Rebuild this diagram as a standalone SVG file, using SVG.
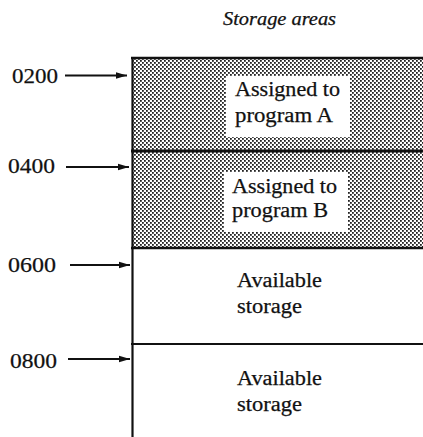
<svg xmlns="http://www.w3.org/2000/svg" width="423" height="437" viewBox="0 0 423 437">
<defs>
<pattern id="dots" width="4" height="4" patternUnits="userSpaceOnUse">
<rect width="4" height="4" fill="#ffffff"/>
<rect x="0" y="0" width="1.8" height="1.8" fill="#222"/>
<rect x="2" y="2" width="1.8" height="1.8" fill="#222"/>
</pattern>
<marker id="ah" markerWidth="12" markerHeight="8" refX="11" refY="4" orient="auto" markerUnits="userSpaceOnUse">
<path d="M0,0.8 L11,4 L0,7.2 Z" fill="#111"/>
</marker>
</defs>
<style>
text{font-family:'Liberation Serif','Times New Roman',serif;fill:#111;stroke:#111;stroke-width:0.25}
.t{font-size:20px}
.lbl{font-size:22px}
.ttl{font-size:18px;font-style:italic}
.ln{stroke:#111;fill:none}
.arr{stroke:#111;stroke-width:1.8;fill:none;marker-end:url(#ah)}
.box{fill:#ffffff}
</style>
<rect width="423" height="437" fill="#ffffff"/>
<text class="ttl" x="223" y="25" textLength="113" lengthAdjust="spacingAndGlyphs">Storage areas</text>
<g id="areaA">
<rect x="132" y="57" width="291" height="94" fill="url(#dots)"/>
<rect class="box" x="226" y="76" width="124" height="61"/>
<text class="t" x="235" y="96" textLength="105" lengthAdjust="spacingAndGlyphs">Assigned to</text>
<text class="t" x="235" y="122" textLength="98" lengthAdjust="spacingAndGlyphs">program A</text>
</g>
<g id="areaB">
<rect x="132" y="151" width="291" height="97" fill="url(#dots)"/>
<rect class="box" x="224" y="172" width="124" height="60"/>
<text class="t" x="232" y="193" textLength="105" lengthAdjust="spacingAndGlyphs">Assigned to</text>
<text class="t" x="232" y="217" textLength="96" lengthAdjust="spacingAndGlyphs">program B</text>
</g>
<g id="avail1">
<text class="t" x="237" y="287" textLength="85" lengthAdjust="spacingAndGlyphs">Available</text>
<text class="t" x="237" y="313" textLength="65" lengthAdjust="spacingAndGlyphs">storage</text>
</g>
<g id="avail2">
<text class="t" x="237" y="385" textLength="85" lengthAdjust="spacingAndGlyphs">Available</text>
<text class="t" x="237" y="411" textLength="65" lengthAdjust="spacingAndGlyphs">storage</text>
</g>
<g id="borders">
<line class="ln" x1="131" y1="58" x2="423" y2="58" stroke-width="2.5"/>
<line class="ln" x1="131" y1="151" x2="423" y2="151" stroke-width="3"/>
<line class="ln" x1="131" y1="248" x2="423" y2="248" stroke-width="2.5"/>
<line class="ln" x1="131" y1="344" x2="423" y2="344" stroke-width="1.8"/>
<line class="ln" x1="132.5" y1="57" x2="132.5" y2="437" stroke-width="2.2"/>
</g>
<g id="labels">
<text class="lbl" x="12" y="83" textLength="46" lengthAdjust="spacingAndGlyphs">0200</text>
<text class="lbl" x="8" y="173" textLength="47" lengthAdjust="spacingAndGlyphs">0400</text>
<text class="lbl" x="8" y="272" textLength="48" lengthAdjust="spacingAndGlyphs">0600</text>
<text class="lbl" x="10" y="368" textLength="47" lengthAdjust="spacingAndGlyphs">0800</text>
</g>
<g id="connectors">
<line class="arr" x1="65" y1="75.5" x2="127" y2="75.5"/>
<line class="arr" x1="66" y1="167" x2="129" y2="167"/>
<line class="arr" x1="70" y1="265" x2="130" y2="265"/>
<line class="arr" x1="68" y1="359" x2="130" y2="359"/>
</g>
</svg>
